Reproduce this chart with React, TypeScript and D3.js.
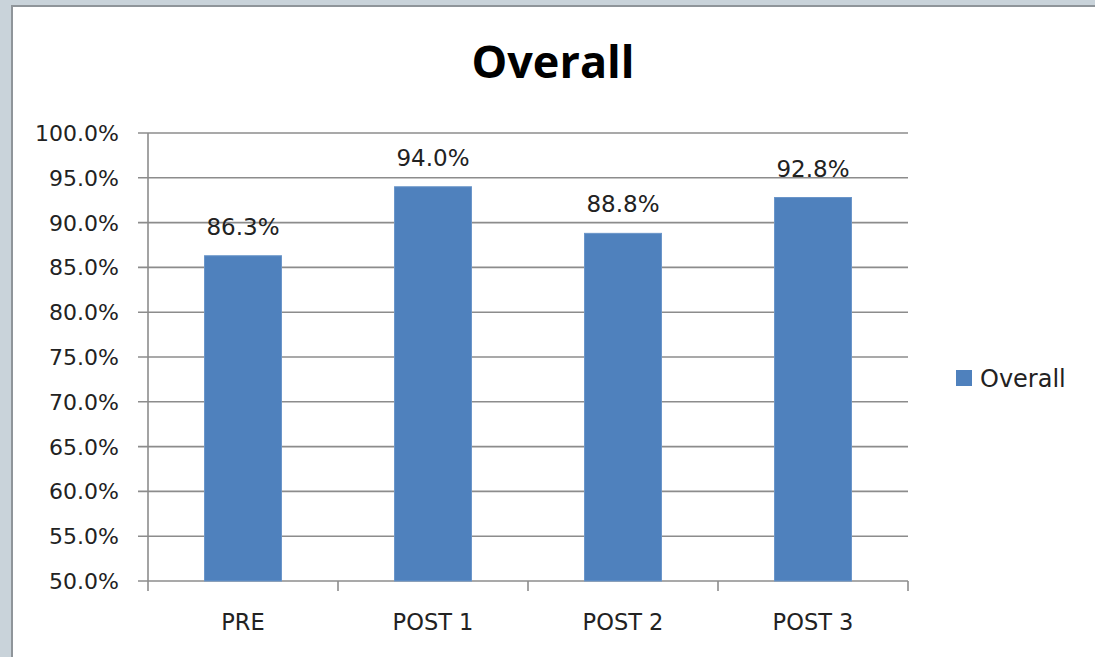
import React from "react";
import * as d3 from "d3";

const categories: string[] = ["PRE", "POST 1", "POST 2", "POST 3"];
const overallValues: number[] = [0.863, 0.94, 0.888, 0.928];
const yTicks: number[] = [0.5, 0.55, 0.6, 0.65, 0.7, 0.75, 0.8, 0.85, 0.9, 0.95, 1.0];
const seriesName = "Overall";
const titleText = "Overall";

const W = 1095;
const H = 657;
const left = 148;
const right = 908;
const top = 133;
const bottom = 581;

export default function App() {
  const x = d3.scaleBand<string>().domain(categories).range([left, right]).padding(0);
  const y = d3.scaleLinear().domain([0.5, 1.0]).range([bottom, top]);
  const fmt = d3.format(".1%");
  const barW = x.bandwidth() * 0.405;
  const labelFont = "'DejaVu Sans', Verdana, sans-serif";
  const gridColor = "#8c8c8c";

  return (
    <svg
      width={W}
      height={H}
      style={{ position: "absolute", left: 0, top: 0, display: "block" }}
    >
      <rect x={0} y={0} width={W} height={H} fill="#c9d3da" />
      <rect x={12} y={6} width={W} height={H} fill="#ffffff" stroke="#8f959a" strokeWidth={2} />

      <text
        x={553}
        y={78}
        textAnchor="middle"
        fontFamily="'Open Sans', sans-serif"
        fontWeight="bold"
        fontSize={45}
        fill="#000"
      >
        {titleText}
      </text>

      {/* gridlines and y ticks */}
      {yTicks.map((t) => (
        <g key={t}>
          <line
            x1={left - 10}
            x2={right}
            y1={y(t)}
            y2={y(t)}
            stroke={gridColor}
            strokeWidth={1.6}
          />
          <text
            x={119}
            y={y(t)}
            dy="0.36em"
            textAnchor="end"
            fontFamily={labelFont}
            fontSize={22}
            fill="#222"
          >
            {fmt(t)}
          </text>
        </g>
      ))}

      {/* y axis line */}
      <line x1={left} x2={left} y1={top} y2={bottom} stroke={gridColor} strokeWidth={1.6} />

      {/* x axis tick marks */}
      {categories.map((c, i) => (
        <line
          key={"t" + c}
          x1={x(c)!}
          x2={x(c)!}
          y1={bottom}
          y2={bottom + 10}
          stroke={gridColor}
          strokeWidth={1.6}
        />
      ))}
      <line x1={right} x2={right} y1={bottom} y2={bottom + 10} stroke={gridColor} strokeWidth={1.6} />

      {/* bars */}
      {categories.map((c, i) => {
        const cx = x(c)! + x.bandwidth() / 2;
        const v = overallValues[i];
        return (
          <g key={"b" + c}>
            <rect
              x={cx - barW / 2}
              y={y(v)}
              width={barW}
              height={bottom - y(v)}
              fill="#4f81bd"
              stroke="#6a95c9"
              strokeWidth={1}
            />
            <text
              x={cx}
              y={y(v) - 21}
              textAnchor="middle"
              fontFamily={labelFont}
              fontSize={23}
              fill="#222"
            >
              {fmt(v)}
            </text>
            <text
              x={cx}
              y={630}
              textAnchor="middle"
              fontFamily={labelFont}
              fontSize={22.5}
              fill="#222"
            >
              {c}
            </text>
          </g>
        );
      })}

      {/* legend */}
      <rect x={956} y={370} width={16} height={16} fill="#4f81bd" />
      <text
        x={980}
        y={378}
        dy="0.36em"
        fontFamily={labelFont}
        fontSize={24}
        fill="#222"
      >
        {seriesName}
      </text>
    </svg>
  );
}
